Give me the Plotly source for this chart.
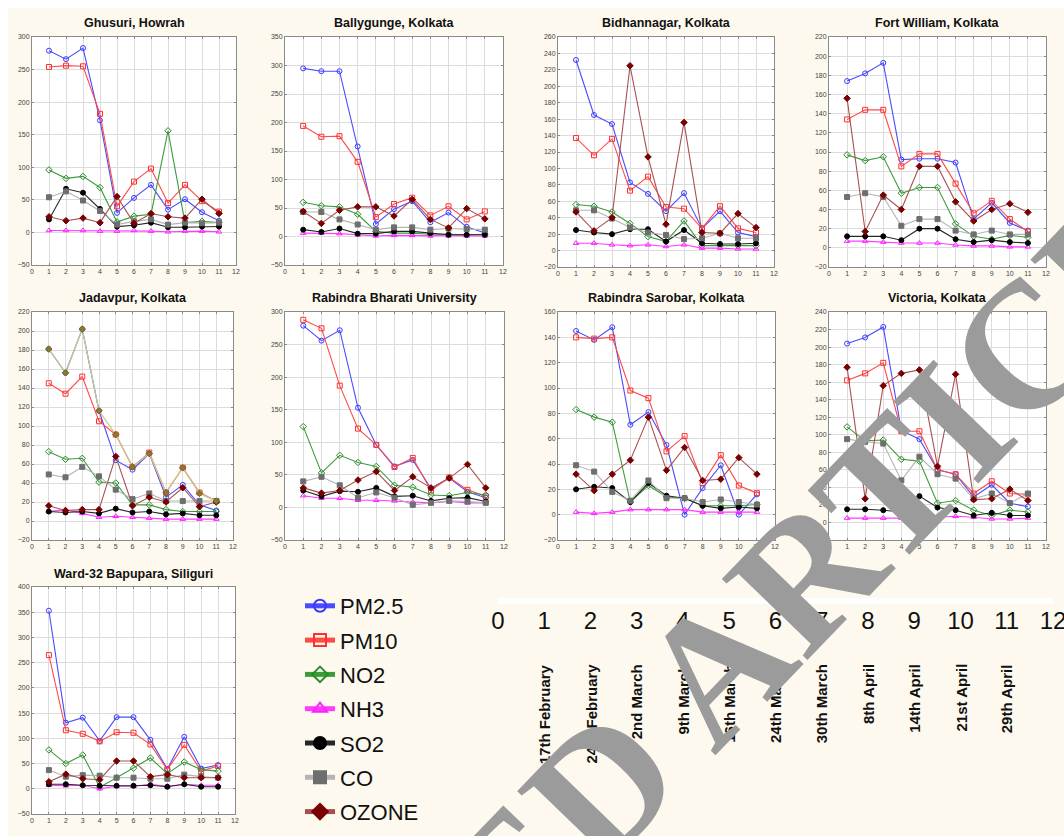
import plotly.graph_objects as go

# the figure covers the whole 1064x836 window (body margin removed below);
# the reference shows a thin white border at its top and left edges
W, H = 1064, 836
EDGE = 8


def px(x):
    return x / W


def py(y):
    return 1 - y / H


# ---------------- data ----------------
week_index = list(range(1, 12))
week_dates = ["17th February", "24th February", "2nd March", "9th March", "16th March",
              "24th March", "30th March", "8th April", "14th April", "21st April", "29th April"]
key_ticks = list(range(0, 13))
pollutants = ["PM2.5", "PM10", "NO2", "NH3", "SO2", "CO", "OZONE"]

stations = ["Ghusuri, Howrah", "Ballygunge, Kolkata", "Bidhannagar, Kolkata", "Fort William, Kolkata",
            "Jadavpur, Kolkata", "Rabindra Bharati University", "Rabindra Sarobar, Kolkata",
            "Victoria, Kolkata", "Ward-32 Bapupara, Siliguri"]

# order of each station list: PM2.5, PM10, NO2, NH3, SO2, CO, OZONE
ghusuri_pm25 = [279, 266, 283, 172, 30, 53, 73, 35, 51, 31, 18]
ghusuri_pm10 = [254, 256, 255, 182, 40, 78, 98, 45, 73, 48, 32]
ghusuri_no2 = [96, 83, 86, 69, 16, 25, 28, 156, 15, 17, 15]
ghusuri_nh3 = [3, 3, 3, 2, 2, 3, 2, 1, 2, 2, 1]
ghusuri_so2 = [20, 67, 61, 36, 9, 11, 15, 8, 8, 9, 9]
ghusuri_co = [54, 63, 49, 33, 12, 17, 20, 12, 15, 14, 15]
ghusuri_o3 = [24, 18, 22, 15, 55, 14, 29, 24, 22, 51, 29]

ballygunge_pm25 = [295, 290, 290, 158, 22, 48, 62, 25, 42, 17, 6]
ballygunge_pm10 = [194, 175, 176, 131, 34, 57, 68, 37, 53, 30, 44]
ballygunge_no2 = [60, 54, 52, 39, 9, 6, 6, 4, 4, 3, 4]
ballygunge_nh3 = [6, 6, 5, 3, 1, 2, 2, 1, 1, 1, 1]
ballygunge_so2 = [12, 8, 14, 5, 5, 9, 9, 6, 3, 3, 3]
ballygunge_co = [43, 43, 30, 21, 12, 16, 16, 12, 14, 13, 12]
ballygunge_o3 = [44, 23, 46, 52, 52, 36, 65, 30, 15, 49, 31]

bidhannagar_pm25 = [232, 165, 154, 83, 69, 48, 70, 27, 48, 22, 17]
bidhannagar_pm10 = [137, 116, 136, 73, 90, 53, 51, 27, 54, 27, 22]
bidhannagar_no2 = [56, 54, 47, 33, 17, 11, 36, 6, 6, 6, 6]
bidhannagar_nh3 = [9, 9, 7, 6, 7, 5, 7, 3, 3, 2, 2]
bidhannagar_so2 = [25, 22, 20, 26, 26, 11, 25, 9, 8, 8, 9]
bidhannagar_co = [49, 49, 39, 28, 22, 19, 14, 15, 21, 15, 15]
bidhannagar_o3 = [47, 24, 40, 225, 114, 32, 156, 22, 21, 45, 28]

fortwilliam_pm25 = [174, 182, 193, 92, 93, 93, 89, 30, 47, 26, 18]
fortwilliam_pm10 = [134, 144, 144, 85, 98, 98, 67, 36, 49, 30, 17]
fortwilliam_no2 = [97, 91, 95, 57, 63, 63, 25, 12, 9, 13, 11]
fortwilliam_nh3 = [7, 7, 6, 5, 5, 5, 3, 2, 2, 1, 1]
fortwilliam_so2 = [12, 12, 12, 8, 20, 20, 9, 6, 8, 6, 5]
fortwilliam_co = [53, 57, 53, 23, 30, 30, 18, 14, 18, 14, 14]
fortwilliam_o3 = [156, 17, 55, 40, 85, 85, 48, 28, 40, 46, 37]

jadavpur_pm25 = [181, 156, 202, 116, 64, 54, 71, 25, 38, 17, 11]
jadavpur_pm10 = [145, 134, 152, 105, 91, 57, 72, 30, 56, 30, 21]
jadavpur_no2 = [73, 65, 66, 41, 40, 17, 17, 12, 10, 10, 10]
jadavpur_nh3 = [10, 12, 8, 4, 5, 4, 3, 2, 2, 2, 2]
jadavpur_so2 = [10, 9, 10, 8, 13, 9, 10, 7, 8, 6, 6]
jadavpur_co = [49, 46, 57, 47, 33, 23, 29, 21, 21, 21, 21]
jadavpur_o3 = [16, 11, 12, 12, 68, 16, 25, 20, 35, 15, 20]
jadavpur_extra = [181, 156, 202, 116, 91, 57, 71, 30, 56, 29, 21]

rbu_pm25 = [279, 256, 272, 153, 96, 63, 73, 29, 45, 24, 15]
rbu_pm10 = [288, 275, 187, 121, 96, 62, 76, 26, 46, 27, 17]
rbu_no2 = [124, 53, 80, 69, 63, 34, 31, 19, 18, 23, 19]
rbu_nh3 = [18, 14, 14, 11, 11, 10, 8, 7, 9, 7, 7]
rbu_so2 = [26, 17, 25, 24, 30, 17, 18, 10, 14, 15, 9]
rbu_co = [40, 47, 34, 15, 23, 15, 4, 7, 10, 9, 7]
rbu_o3 = [30, 22, 26, 42, 55, 26, 47, 30, 45, 66, 30]

sarobar_pm25 = [145, 138, 148, 71, 81, 55, 0, 21, 39, 0, 16]
sarobar_pm10 = [140, 139, 140, 98, 92, 50, 62, 25, 47, 23, 17]
sarobar_no2 = [83, 77, 73, 10, 23, 14, 13, 7, 7, 7, 8]
sarobar_nh3 = [2, 1, 2, 4, 4, 4, 4, 2, 2, 2, 2]
sarobar_so2 = [20, 22, 21, 10, 25, 15, 13, 7, 5, 6, 5]
sarobar_co = [39, 34, 18, 11, 27, 13, 13, 10, 12, 10, 8]
sarobar_o3 = [32, 19, 32, 43, 77, 35, 53, 27, 28, 45, 32]

victoria_pm25 = [204, 211, 223, 105, 95, 60, 55, 29, 43, 22, 18]
victoria_pm10 = [162, 170, 182, 104, 104, 60, 55, 33, 47, 33, 32]
victoria_no2 = [109, 93, 94, 72, 70, 22, 25, 14, 8, 14, 12]
victoria_nh3 = [5, 5, 5, 5, 6, 6, 7, 6, 4, 4, 5]
victoria_so2 = [15, 15, 14, 12, 30, 17, 14, 8, 11, 8, 8]
victoria_co = [95, 92, 90, 48, 75, 55, 50, 27, 33, 22, 33]
victoria_o3 = [177, 27, 156, 170, 174, 64, 169, 26, 27, 38, 25]

ward32_pm25 = [353, 131, 141, 95, 142, 142, 97, 39, 103, 40, 47]
ward32_pm10 = [265, 116, 109, 94, 112, 111, 88, 38, 87, 35, 45]
ward32_no2 = [77, 50, 67, 3, 22, 41, 61, 30, 53, 38, 35]
ward32_nh3 = [7, 6, 7, 0, 5, 5, 9, 5, 9, 7, 7]
ward32_so2 = [9, 9, 7, 6, 6, 6, 7, 4, 9, 4, 4]
ward32_co = [37, 24, 27, 26, 22, 22, 20, 20, 28, 24, 22]
ward32_o3 = [14, 29, 20, 18, 55, 55, 24, 28, 22, 22, 22]

station_series = [
    [ghusuri_pm25, ghusuri_pm10, ghusuri_no2, ghusuri_nh3, ghusuri_so2, ghusuri_co, ghusuri_o3],
    [ballygunge_pm25, ballygunge_pm10, ballygunge_no2, ballygunge_nh3, ballygunge_so2, ballygunge_co, ballygunge_o3],
    [bidhannagar_pm25, bidhannagar_pm10, bidhannagar_no2, bidhannagar_nh3, bidhannagar_so2, bidhannagar_co, bidhannagar_o3],
    [fortwilliam_pm25, fortwilliam_pm10, fortwilliam_no2, fortwilliam_nh3, fortwilliam_so2, fortwilliam_co, fortwilliam_o3],
    [jadavpur_pm25, jadavpur_pm10, jadavpur_no2, jadavpur_nh3, jadavpur_so2, jadavpur_co, jadavpur_o3],
    [rbu_pm25, rbu_pm10, rbu_no2, rbu_nh3, rbu_so2, rbu_co, rbu_o3],
    [sarobar_pm25, sarobar_pm10, sarobar_no2, sarobar_nh3, sarobar_so2, sarobar_co, sarobar_o3],
    [victoria_pm25, victoria_pm10, victoria_no2, victoria_nh3, victoria_so2, victoria_co, victoria_o3],
    [ward32_pm25, ward32_pm10, ward32_no2, ward32_nh3, ward32_so2, ward32_co, ward32_o3],
]

y_ranges = [(-50, 300, 50), (-50, 350, 50), (-20, 260, 20), (-20, 220, 20),
            (-20, 220, 20), (-50, 300, 50), (-20, 160, 20), (-20, 240, 20), (-50, 400, 50)]

# ---------------- styles ----------------
line_colors = ["#4b4bff", "#ff4a4a", "#3c9c3c", "#ff3cff", "#262626", "#b4b4b4", "#a85050"]
marker_colors = ["#3a3aff", "#ff3030", "#2a8a2a", "#ff20ff", "#000000", "#6e6e6e", "#780000"]
symbols = ["circle-open", "square-open", "diamond-open", "triangle-up-open", "circle", "square", "diamond"]

# plot frames in window pixels (x0, x1, y0, y1)
frames = [(32, 236, 37, 265), (285, 503, 37, 265), (558, 774, 37, 267), (829, 1046, 37, 267),
          (32, 233, 312, 540), (285, 504, 312, 540), (558, 775, 312, 540), (829, 1046, 312, 540),
          (32, 235, 587, 814)]
title_y = [23, 23, 23, 23, 298, 298, 298, 298, 574]

SANS = "Liberation Sans, Arial, sans-serif"

fig = go.Figure()
annotations = []
layout_axes = {}

for i, (name, series) in enumerate(zip(stations, station_series)):
    k = i + 1
    xa = "x" if k == 1 else f"x{k}"
    ya = "y" if k == 1 else f"y{k}"
    x0, x1, y0, y1 = frames[i]
    ylo, yhi, ystep = y_ranges[i]
    common = dict(showgrid=True, gridcolor="#dcdcdc", gridwidth=1, zeroline=False,
                  showline=True, linecolor="#8a8a8a", linewidth=1, mirror="ticks",
                  ticks="inside", ticklen=2, tickcolor="#8a8a8a", automargin=False,
                  tickfont=dict(size=7, color="#444444", family=SANS), fixedrange=True)
    layout_axes["xaxis" if k == 1 else f"xaxis{k}"] = dict(
        domain=[px(x0), px(x1)], anchor=ya, range=[0, 12], dtick=1, tick0=0, **common)
    layout_axes["yaxis" if k == 1 else f"yaxis{k}"] = dict(
        domain=[py(y1), py(y0)], anchor=xa, range=[ylo, yhi], dtick=ystep, tick0=0, **common)
    for j, vals in enumerate(series):
        fig.add_trace(go.Scatter(
            x=week_index, y=vals, xaxis=xa, yaxis=ya, mode="lines+markers",
            name=pollutants[j], legendgroup=pollutants[j], showlegend=(k == 1),
            line=dict(color=line_colors[j], width=1.1),
            marker=dict(symbol=symbols[j], size=5, color=marker_colors[j],
                        line=dict(color=marker_colors[j], width=1))))
    if name.startswith("Jadavpur"):
        fig.add_trace(go.Scatter(
            x=week_index, y=jadavpur_extra, xaxis=xa, yaxis=ya, mode="lines+markers",
            line=dict(color="#c9c98c", width=1.3),
            marker=dict(symbol="diamond", size=5, color="#8a7a2a", line=dict(color="#6b6b2a", width=1)),
            showlegend=False, hoverinfo="skip"))
    annotations.append(dict(
        text=f"<b>{name}</b>", xref="paper", yref="paper",
        x=px((x0 + x1) / 2), y=py(title_y[i]), xanchor="center", yanchor="middle",
        showarrow=False, font=dict(size=12.5, color="#111111", family=SANS)))

# date key axis (0..12) in the lower right
layout_axes["xaxis10"] = dict(
    domain=[px(498), px(1053)], anchor="y10", range=[0, 12], tickvals=key_ticks,
    ticktext=[str(t) for t in key_ticks], showgrid=False, zeroline=False, showline=False,
    ticks="", automargin=False, ticklabeloverflow="allow",
    tickfont=dict(size=24, color="#111111", family=SANS), fixedrange=True)
layout_axes["yaxis10"] = dict(
    domain=[py(604), py(598)], anchor="x10", visible=False, range=[0, 1], fixedrange=True)
fig.add_trace(go.Scatter(x=[], y=[], xaxis="x10", yaxis="y10", showlegend=False))

for idx, d in zip(week_index, week_dates):
    annotations.append(dict(
        text=f"<b>{d}</b>", xref="x10", yref="paper", x=idx, y=py(662),
        xanchor="center", yanchor="top", textangle=-90, showarrow=False,
        font=dict(size=15, color="#111111", family=SANS)))

# retraction watermark
annotations.append(dict(
    text="<b>RETRACTED ARTICLE</b>", xref="paper", yref="paper", x=px(548), y=py(841),
    xanchor="center", yanchor="middle", textangle=-46, showarrow=False,
    font=dict(size=180, color="#9b9b9b", family="Liberation Serif, Times New Roman, serif")))

# thin white page border at top and left
shapes = [
    dict(type="rect", xref="paper", yref="paper", x0=0, x1=1, y0=py(EDGE), y1=1,
         fillcolor="#ffffff", line=dict(width=0), layer="below"),
    dict(type="rect", xref="paper", yref="paper", x0=0, x1=px(EDGE), y0=0, y1=1,
         fillcolor="#ffffff", line=dict(width=0), layer="below"),
]

fig.update_layout(
    width=W, height=H, margin=dict(l=0, r=0, t=0, b=0, autoexpand=False),
    paper_bgcolor="#fdf9ee", plot_bgcolor="#ffffff",
    annotations=annotations, shapes=shapes,
    legend=dict(x=px(300), y=py(585), xanchor="left", yanchor="top",
                font=dict(size=22, color="#111111", family=SANS),
                bgcolor="rgba(0,0,0,0)", itemsizing="constant", tracegroupgap=2.7),
    **layout_axes)

fig.write_html(
    "out.html",
    config={"displayModeBar": False},
    post_script=("document.body.style.margin='0';document.body.style.padding='0';"
                 "document.documentElement.style.overflow='hidden';document.body.style.overflow='hidden';"))
